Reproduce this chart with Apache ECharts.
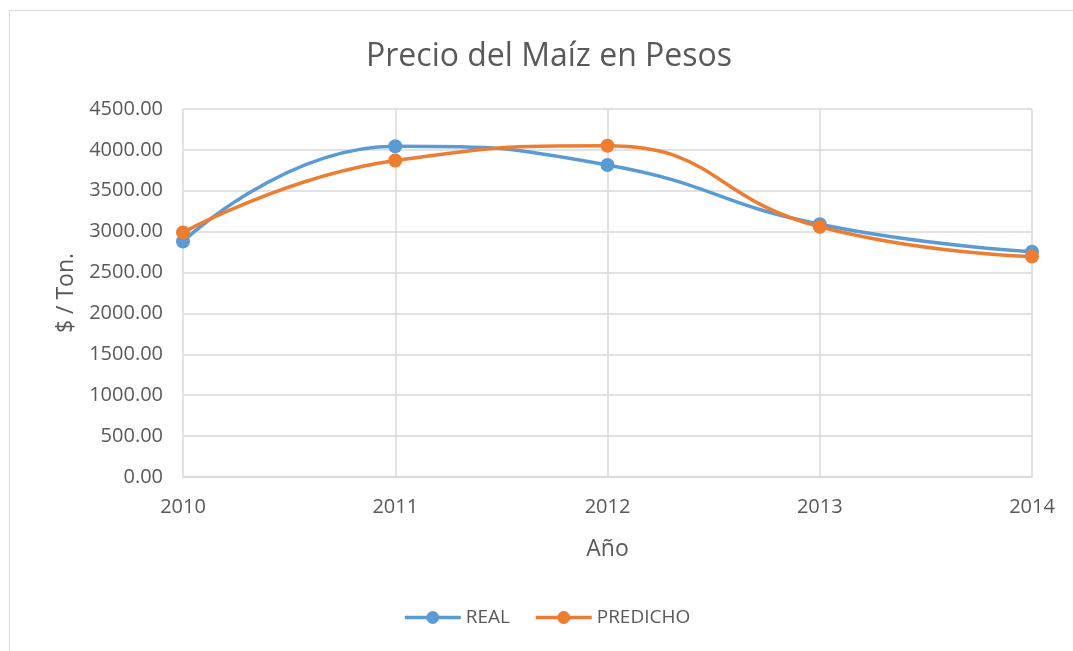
<!DOCTYPE html>
<html><head><meta charset="utf-8">
<script src="https://cdn.jsdelivr.net/npm/echarts@6/dist/echarts.min.js"></script>
<style>html,body{margin:0;padding:0;background:#fff;}
#frame{position:absolute;left:9px;top:10px;width:1080px;height:660px;border:1px solid #d9d9d9;box-sizing:border-box;}
#c{position:absolute;left:0;top:0;width:1073px;height:651px;}</style>
</head><body><div id="frame"></div><div id="c"></div>
<script>
const years = ['2010','2011','2012','2013','2014'];
const real = [2880, 4045, 3815, 3090, 2755];
const predicho = [2990, 3870, 4050, 3060, 2695];
const yTicks = {min:0, max:4500, interval:500};
const chart = echarts.init(document.getElementById('c'));
const font = 'Open Sans, Liberation Sans, sans-serif';
const txt = '#595959';
chart.setOption({
  backgroundColor:'transparent',
  animation:false,
  title:{text:'Precio del Maíz en Pesos', left:361, top:36, textStyle:{fontFamily:font, fontSize:32, fontWeight:'normal', color:txt}},
  grid:{left:183, right:41, top:109, bottom:174, containLabel:false},
  legend:{bottom:19, left:398, itemWidth:56, itemHeight:16, itemGap:24,
    lineStyle:{width:3.5}, textStyle:{fontFamily:font, fontSize:19, color:txt},
    data:['REAL','PREDICHO']},
  xAxis:{type:'category', data:years, boundaryGap:false, name:'Año', nameLocation:'middle', nameGap:61,
    nameTextStyle:{fontFamily:font, fontSize:23, color:txt},
    axisLine:{lineStyle:{color:'#d9d9d9', width:1.5}}, axisTick:{show:false},
    axisLabel:{fontFamily:font, fontSize:20, color:txt, margin:20},
    splitLine:{show:true, lineStyle:{color:'#d9d9d9', width:1.5}}},
  yAxis:{type:'value', min:yTicks.min, max:yTicks.max, interval:yTicks.interval, name:'$ / Ton.', nameLocation:'middle', nameGap:105,
    nameTextStyle:{fontFamily:font, fontSize:23, color:txt},
    axisLine:{show:false}, axisTick:{show:false},
    axisLabel:{fontFamily:font, fontSize:20, color:txt, margin:20, formatter:v=>v.toFixed(2)},
    splitLine:{lineStyle:{color:'#d9d9d9', width:1.5}}},
  series:[
    {name:'REAL', type:'line', data:real, smooth:0.5, symbol:'circle', symbolSize:14,
      lineStyle:{color:'#5B9BD5', width:3.5}, itemStyle:{color:'#5B9BD5'}},
    {name:'PREDICHO', type:'line', data:predicho, smooth:0.5, symbol:'circle', symbolSize:14,
      lineStyle:{color:'#ED7D31', width:3.5}, itemStyle:{color:'#ED7D31'}}
  ]
});
</script></body></html>
